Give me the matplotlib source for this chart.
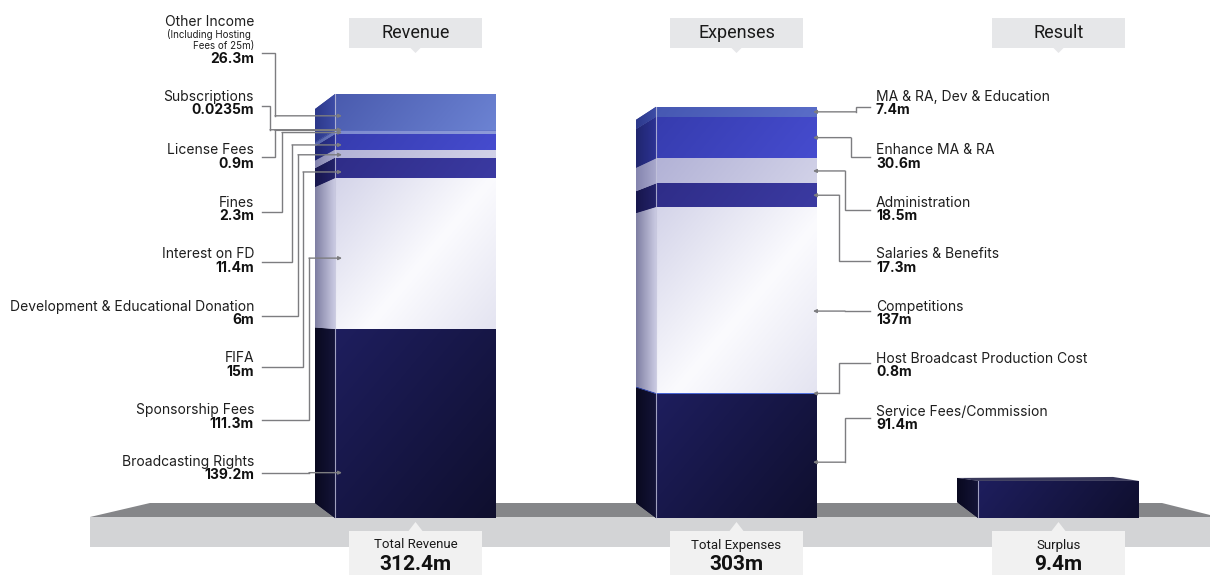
import numpy as np
import matplotlib
matplotlib.use("Agg")
import matplotlib.pyplot as plt
from matplotlib.patches import Polygon
from matplotlib.colors import to_rgb

# ---------------- data ----------------
rev_labels = ["Broadcasting Rights", "Sponsorship Fees", "FIFA",
              "Development & Educational Donation", "Interest on FD", "Fines",
              "License Fees", "Subscriptions", "Other Income"]
rev_values = [139.2, 111.3, 15, 6, 11.4, 2.3, 0.9, 0.0235, 26.3]
rev_notes = {"Other Income": ["(Including Hosting ", "Fees of 25m)"]}

exp_labels = ["Service Fees/Commission", "Host Broadcast Production Cost",
              "Competitions", "Salaries & Benefits", "Administration",
              "Enhance MA & RA", "MA & RA, Dev & Education"]
exp_values = [91.4, 0.8, 137, 17.3, 18.5, 30.6, 7.4]

column_titles = ["Revenue", "Expenses", "Result"]
total_titles = ["Total Revenue", "Total Expenses", "Surplus"]

total_rev = sum(rev_values)
total_exp = sum(exp_values)
surplus = total_rev - total_exp


def fmt(v):
    return f"{round(v, 4):g}m"


def fmt_total(v):
    return f"{round(v, 1):g}m"


# ---------------- canvas ----------------
W, H = 1210, 575
BASE = 518          # pixel row of the zero line
S = 1.357           # pixels per million


def val(py):
    return (BASE - py) / S


fig = plt.figure(figsize=(W / 100, H / 100), dpi=100)
ax = fig.add_axes([0, 0, 1, 1])
ax.set_autoscale_on(False)
ax.set_xlim(0, W)
ax.set_ylim(val(H), val(0))
ax.axis("off")

LABEL_FONT = "Inter"
BOX_FONT = "Roboto"


def gradient(verts, stops, angle, z):
    verts = np.asarray(verts, float)
    x0, x1 = verts[:, 0].min(), verts[:, 0].max()
    y0, y1 = verts[:, 1].min(), verts[:, 1].max()
    wpx, hpx = max(x1 - x0, 1e-6), max((y1 - y0) * S, 1e-6)
    n = 96
    g = np.linspace(0, 1, n)
    U, V = np.meshgrid(g * wpx, g * hpx)
    a = np.deg2rad(angle)
    d = U * np.cos(a) + V * np.sin(a)
    t = (d - d.min()) / (d.max() - d.min() + 1e-9)
    pos = [p for p, _ in stops]
    cols = np.array([to_rgb(c) for _, c in stops])
    img = np.stack([np.interp(t, pos, cols[:, k]) for k in range(3)], axis=-1)
    # solid underlay so very thin slices still show
    base = Polygon(verts, closed=True, fc=cols.mean(axis=0), ec="none", zorder=z)
    ax.add_patch(base)
    im = ax.imshow(img, extent=(x0, x1, y0, y1), origin="lower", aspect="auto",
                   interpolation="bilinear", zorder=z + 0.01)
    clip = Polygon(verts, closed=True, transform=ax.transData, fc="none", ec="none")
    im.set_clip_path(clip)


def draw_bar(xs, xf, xr, heights, front_styles, side_styles, top_off, bot_off):
    total = sum(heights)

    def side_v(v):
        py = BASE - v * S
        frac = v / total if total else 0
        off = bot_off + (top_off - bot_off) * frac
        return val(py + off)

    cum = 0.0
    for h, fs, ss in zip(heights, front_styles, side_styles):
        v0, v1 = cum, cum + h
        gradient([(xf, v0), (xr, v0), (xr, v1), (xf, v1)], fs, -40, 3)
        gradient([(xs, side_v(v0)), (xf, v0), (xf, v1), (xs, side_v(v1))], ss, 0, 3)
        cum = v1
    # highlight on the front/side edge
    ax.plot([xf, xf], [0, total], color="#c4c4dc", lw=0.8, alpha=0.8, zorder=4)
    return side_v


# colour styles
NAVY_F = [(0, "#1e1e5e"), (1, "#0f0f2e")]
NAVY_S = [(0, "#09091f"), (1, "#141438")]
WHITE_F = [(0, "#d4d4e9"), (0.55, "#fbfbfe"), (1, "#e4e4f1")]
WHITE_S = [(0, "#7e7ea2"), (1, "#cacae2")]
INDIGO_F = [(0, "#2f2d88"), (1, "#3b3aa2")]
INDIGO_S = [(0, "#17164c"), (1, "#23226a")]
LAV_F = [(0, "#b2b2d6"), (1, "#d2d2e8")]
LAV_S = [(0, "#8484ae"), (1, "#a8a8cc")]
BLUE_F = [(0, "#363cae"), (1, "#464ccf")]
BLUE_S = [(0, "#20266e"), (1, "#2c3294")]
PALE_F = [(0, "#7d8bd0"), (1, "#8e9bd9")]
PALE_S = [(0, "#5562a8"), (1, "#6a78c0")]
MID_F = [(0, "#5668bd"), (1, "#6678c8")]
MID_S = [(0, "#3a4896"), (1, "#4654a8")]
TOP_F = [(0, "#4a5bae"), (1, "#6c83d3")]
TOP_S = [(0, "#2c388a"), (1, "#3d4ca6")]
TOP2_F = [(0, "#4658b2"), (1, "#5a6dc8")]
HOST_F = [(0, "#4763d2"), (1, "#5474e0")]
HOST_S = [(0, "#2a3c98"), (1, "#3348b0")]

rev_front = [NAVY_F, WHITE_F, INDIGO_F, LAV_F, BLUE_F, PALE_F, MID_F, PALE_F, TOP_F]
rev_side = [NAVY_S, WHITE_S, INDIGO_S, LAV_S, BLUE_S, PALE_S, MID_S, PALE_S, TOP_S]
exp_front = [NAVY_F, HOST_F, WHITE_F, INDIGO_F, LAV_F, BLUE_F, TOP2_F]
exp_side = [NAVY_S, HOST_S, WHITE_S, INDIGO_S, LAV_S, BLUE_S, TOP_S]

# ---------------- floor ----------------
ax.add_patch(Polygon([(90, val(517)), (150, val(503)), (1162, val(503)),
                      (1210, val(515)), (1210, val(517))],
                     closed=True, fc="#858689", ec="none", zorder=1))
ax.add_patch(Polygon([(90, val(517)), (1210, val(517)), (1210, val(547)), (90, val(547))],
                     closed=True, fc="#d3d4d6", ec="none", zorder=1))

# ---------------- bars ----------------
bar_x = [(315, 335, 496), (636, 656, 817), (957, 978, 1139)]
draw_bar(*bar_x[0], rev_values, rev_front, rev_side, 15, -15)
draw_bar(*bar_x[1], exp_values, exp_front, exp_side, 13, -15)

# the surplus block is kept visible with a minimum display height
MIN_VISIBLE = 27.3
res_h = max(surplus, MIN_VISIBLE)
draw_bar(*bar_x[2], [res_h], [NAVY_F], [NAVY_S], -3, -16)
xs, xf, xr = bar_x[2]
ax.add_patch(Polygon([(xs, res_h + val(478) - val(481)), (1113, res_h + val(477) - val(481)),
                      (xr, res_h), (xf, res_h)],
                     closed=True, fc="#3a3a5c", ec="none", zorder=3.5))

# ---------------- connectors & labels ----------------
LINE_C = "#7d7d80"
NAME_C = "#1e1e1e"
FS = 10.0


def connector(x_text, x_elbow, line_v, anchor_x, anchor_v):
    ax.plot([x_text, x_elbow, x_elbow], [line_v, line_v, anchor_v],
            color=LINE_C, lw=1.0, zorder=5, solid_joinstyle="miter")
    ax.annotate("", xy=(anchor_x, anchor_v), xytext=(x_elbow, anchor_v),
                arrowprops=dict(arrowstyle="-|>", color=LINE_C, lw=1.0,
                                mutation_scale=5, shrinkA=0, shrinkB=0),
                zorder=5)


# revenue (left side), listed bottom to top
rev_name_y = [461.7, 410, 358, 306.7, 254, 202.7, 150, 96.7, 21.7]
rev_line_y = [473.3, 420, 366.7, 316, 261.7, 211.7, 157, 106, 53]
rev_elbow_x = [309, 309, 303, 298, 292, 282, 275, 270, 275]
rev_anchor_frac = [0.24, 0.47, 0.3, 0.36, 0.3, 0.5, 0.5, 0.5, 0.39]

cum = 0.0
for lab, v, ny, ly, ex, fr in zip(rev_labels, rev_values, rev_name_y,
                                  rev_line_y, rev_elbow_x, rev_anchor_frac):
    anchor = cum + fr * v
    cum += v
    connector(262, ex, val(ly), 342, anchor)
    ax.text(254, val(ny), lab, ha="right", va="center", fontsize=FS,
            family=LABEL_FONT, color=NAME_C, zorder=6)
    vy = ny + 13.5
    if lab in rev_notes:
        for i, note in enumerate(rev_notes[lab]):
            ax.text(254, val(ny + 12.5 + 11.5 * i), note, ha="right", va="center",
                    fontsize=7.0, family=LABEL_FONT, color=NAME_C, zorder=6)
        vy = ny + 37
    ax.text(254, val(vy), fmt(v), ha="right", va="center", fontsize=FS,
            family=LABEL_FONT, fontweight="bold", color="#111111", zorder=6)

# expenses (right side), listed bottom to top
exp_name_y = [411.7, 359, 306.7, 254, 202.7, 150, 96.7]
exp_line_y = [417.7, 363.3, 311, 260.7, 210, 157.3, 107.3]
exp_elbow_x = [845, 839, 845, 839, 845, 851, 856]
exp_anchor_frac = [0.45, 0.5, 0.44, 0.5, 0.5, 0.5, 0.5]

cum = 0.0
for lab, v, ny, ly, ex, fr in zip(exp_labels, exp_values, exp_name_y,
                                  exp_line_y, exp_elbow_x, exp_anchor_frac):
    anchor = cum + fr * v
    cum += v
    connector(870, ex, val(ly), 813, anchor)
    ax.text(876, val(ny), lab, ha="left", va="center", fontsize=FS,
            family=LABEL_FONT, color=NAME_C, zorder=6)
    ax.text(876, val(ny + 13.5), fmt(v), ha="left", va="center", fontsize=FS,
            family=LABEL_FONT, fontweight="bold", color="#111111", zorder=6)

# ---------------- title and total boxes ----------------
centers = [(b[1] + b[2]) / 2 for b in bar_x]
totals = [total_rev, total_exp, surplus]
HW = 66.5
for cx, title, ttl, tv in zip(centers, column_titles, total_titles, totals):
    ax.add_patch(Polygon([(cx - HW, val(18)), (cx + HW, val(18)), (cx + HW, val(48)),
                          (cx + 5, val(48)), (cx, val(53)), (cx - 5, val(48)),
                          (cx - HW, val(48))],
                         closed=True, fc="#e6e7e9", ec="none", zorder=2))
    ax.text(cx, val(33), title, ha="center", va="center", fontsize=13,
            family=BOX_FONT, color="#1a1a1a", zorder=6)
    ax.add_patch(Polygon([(cx - HW, val(531)), (cx - 7, val(531)), (cx, val(522)),
                          (cx + 7, val(531)), (cx + HW, val(531)), (cx + HW, val(580)),
                          (cx - HW, val(580))],
                         closed=True, fc="#f1f1f1", ec="none", zorder=2))
    ax.text(cx, val(545), ttl, ha="center", va="center", fontsize=9.5,
            family=BOX_FONT, color="#1a1a1a", zorder=6)
    ax.text(cx, val(564), fmt_total(tv), ha="center", va="center", fontsize=15,
            family=BOX_FONT, fontweight="bold", color="#111111", zorder=6)

ax.set_xlim(0, W)
ax.set_ylim(val(H), val(0))
fig.savefig("out.png", dpi=100, facecolor="white")
